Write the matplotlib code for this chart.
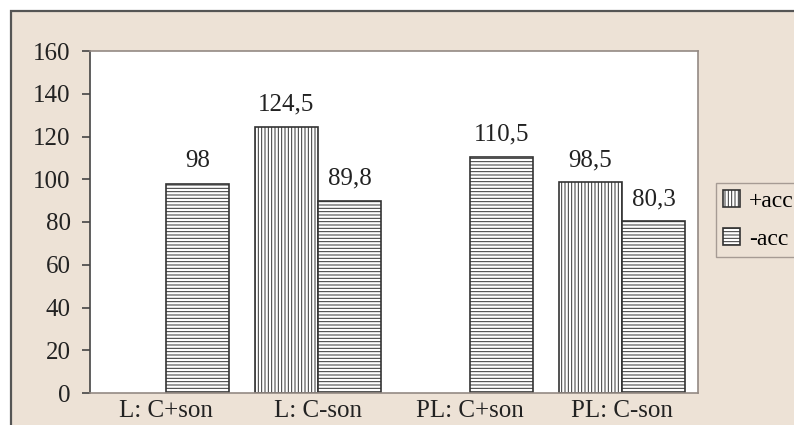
import numpy as np
import matplotlib.pyplot as plt
from matplotlib.patches import Rectangle

plt.rcParams['font.family'] = ['Liberation Serif', 'DejaVu Serif']
plt.rcParams['hatch.linewidth'] = 0.7
plt.rcParams['hatch.color'] = '#333333'

categories = ['L: C+son', 'L: C-son', 'PL: C+son', 'PL: C-son']
plus_acc = [np.nan, 124.5, np.nan, 98.5]
minus_acc = [98, 89.8, 110.5, 80.3]
yticks = [0, 20, 40, 60, 80, 100, 120, 140, 160]

bg = '#ede2d6'
edge = '#333333'

fig = plt.figure(figsize=(7.94, 4.25), dpi=100, facecolor='white')

# beige panel with the dark frame on the top and left
fig.add_artist(Rectangle((11 / 794, -0.2), 1.2, 1.2 - 11 / 425,
                         transform=fig.transFigure, facecolor=bg,
                         edgecolor='#555555', linewidth=1.6, zorder=0))

ax = fig.add_axes([90 / 794, 1 - 393 / 425, 608 / 794, 342 / 425])
ax.set_facecolor('white')

x = np.arange(len(categories))
w = 0.415
b1 = ax.bar(x - w / 2, plus_acc, w, facecolor='white', edgecolor=edge,
            linewidth=1.2, hatch='|||||', label='+acc')
b2 = ax.bar(x + w / 2, minus_acc, w, facecolor='white', edgecolor=edge,
            linewidth=1.2, hatch='-----', label='-acc')

for bars, vals in [(b1, plus_acc), (b2, minus_acc)]:
    for rect, v in zip(bars, vals):
        if np.isnan(v):
            continue
        ax.annotate(f'{v:g}'.replace('.', ','),
                    (rect.get_x() + rect.get_width() / 2, v),
                    xytext=(0, 8), textcoords='offset points',
                    ha='center', va='bottom', fontsize=18, color='#222222')

ax.set_xlim(-0.5, 3.5)
ax.set_ylim(0, 160)
ax.set_yticks(yticks)
ax.set_xticks(x)
ax.set_xticklabels(categories, fontsize=18, color='#222222')
ax.tick_params(axis='y', length=6, width=1.2, color='#444444', labelsize=18,
               labelcolor='#222222', pad=8)
ax.tick_params(axis='x', length=0, pad=5)

for side in ['top', 'right', 'bottom']:
    ax.spines[side].set_color('#948a84')
    ax.spines[side].set_linewidth(1.2)
ax.spines['left'].set_color('#444444')
ax.spines['left'].set_linewidth(1.2)

# legend runs past the right edge of the canvas
leg = fig.legend(handles=[b1, b2], loc='upper left',
                 bbox_to_anchor=(716 / 794, 1 - 183 / 425),
                 borderaxespad=0, fontsize=17, frameon=True, fancybox=False,
                 handlelength=0.7, handleheight=0.7, handletextpad=0.4,
                 labelspacing=0.7, borderpad=0.3)
leg.get_frame().set_facecolor(bg)
leg.get_frame().set_edgecolor('#948a84')
leg.get_frame().set_linewidth(1.0)

fig.savefig('out.png', dpi=100, facecolor='white')
